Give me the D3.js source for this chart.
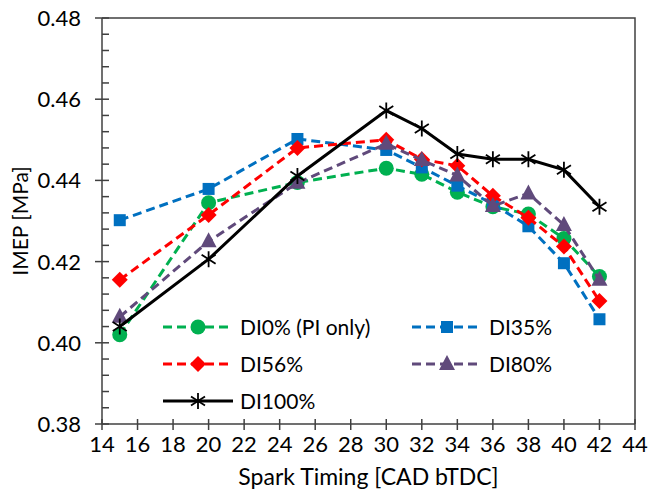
<!DOCTYPE html>
<html>
<head>
<meta charset="utf-8">
<script src="https://cdn.jsdelivr.net/npm/d3@7"></script>
<style>
  html, body { margin: 0; padding: 0; background: #fff; }
  svg text { font-family: Lato, "Open Sans", sans-serif; fill: #000; }
</style>
</head>
<body>
<script>
const WIDTH = 651;
const HEIGHT = 497;
const margin = { top: 18, right: 16, bottom: 73, left: 102 };

// spark timing [CAD bTDC]
const timing = [15, 20, 25, 30, 32, 34, 36, 38, 40, 42];

// IMEP [MPa] per DI ratio
const di0   = [0.4020, 0.4345, 0.4395, 0.4430, 0.4415, 0.4371, 0.4335, 0.4317, 0.4257, 0.4163];
const di35  = [0.4302, 0.4379, 0.4502, 0.4475, 0.4432, 0.4387, 0.4342, 0.4287, 0.4196, 0.4058];
const di56  = [0.4155, 0.4315, 0.4480, 0.4500, 0.4452, 0.4436, 0.4362, 0.4308, 0.4237, 0.4103];
const di80  = [0.4064, 0.4250, 0.4394, 0.4490, 0.4450, 0.4412, 0.4337, 0.4368, 0.4290, 0.4155];
const di100 = [0.4040, 0.4206, 0.4411, 0.4572, 0.4528, 0.4465, 0.4452, 0.4452, 0.4426, 0.4335];

const xTicks = d3.range(14, 45, 2);
const yTicks = [0.38, 0.40, 0.42, 0.44, 0.46, 0.48];

const series = [
  { name: "DI0% (PI only)", values: di0,  color: "#00B050", dash: "9,5", marker: "circle" },
  { name: "DI35%",          values: di35, color: "#0070C0", dash: "9,5", marker: "square" },
  { name: "DI56%",          values: di56, color: "#FF0000", dash: "9,5", marker: "diamond" },
  { name: "DI80%",          values: di80, color: "#604A7B", dash: "9,5", marker: "triangle" },
  { name: "DI100%",         values: di100, color: "#000000", dash: null, marker: "asterisk" }
];

const svg = d3.select("body").append("svg")
  .attr("width", WIDTH)
  .attr("height", HEIGHT);

const x = d3.scaleLinear().domain([14, 44]).range([margin.left, WIDTH - margin.right]);
const y = d3.scaleLinear().domain([0.38, 0.48]).range([HEIGHT - margin.bottom, margin.top]);

// plot frame (top + right)
svg.append("path")
  .attr("d", `M${x(14)},${y(0.48)}H${x(44)}V${y(0.38)}`)
  .attr("fill", "none")
  .attr("stroke", "#404040")
  .attr("stroke-width", 1.5);

// y axis: minor ticks inside, major ticks crossing
const yAxis = svg.append("g");
yAxis.selectAll(".minor")
  .data(d3.range(0, 26).map(i => 0.38 + i * 0.004).filter((d, i) => i % 5 != 0))
  .join("line")
  .attr("x1", x(14)).attr("x2", x(14) + 7)
  .attr("y1", d => y(d)).attr("y2", d => y(d))
  .attr("stroke", "#404040").attr("stroke-width", 1.5);
yAxis.selectAll(".major")
  .data(yTicks)
  .join("line")
  .attr("x1", x(14) - 7).attr("x2", x(14) + 7)
  .attr("y1", d => y(d)).attr("y2", d => y(d))
  .attr("stroke", "#404040").attr("stroke-width", 1.5);
yAxis.selectAll("text")
  .data(yTicks)
  .join("text")
  .attr("x", x(14) - 21)
  .attr("y", d => y(d) + 8)
  .attr("text-anchor", "end")
  .attr("font-size", 22)
  .text(d => d3.format(".2f")(d));
yAxis.append("line")
  .attr("x1", x(14)).attr("x2", x(14))
  .attr("y1", y(0.48)).attr("y2", y(0.38))
  .attr("stroke", "#404040").attr("stroke-width", 1.5);

// x axis
const xAxis = svg.append("g");
xAxis.selectAll("line")
  .data(xTicks)
  .join("line")
  .attr("x1", d => x(d)).attr("x2", d => x(d))
  .attr("y1", y(0.38) - 5).attr("y2", y(0.38) + 6)
  .attr("stroke", "#404040").attr("stroke-width", 1.5);
xAxis.selectAll("text")
  .data(xTicks)
  .join("text")
  .attr("x", d => x(d))
  .attr("y", y(0.38) + 28)
  .attr("text-anchor", "middle")
  .attr("font-size", 22)
  .text(d => d);
xAxis.append("line")
  .attr("x1", x(14)).attr("x2", x(44))
  .attr("y1", y(0.38)).attr("y2", y(0.38))
  .attr("stroke", "#404040").attr("stroke-width", 1.5);

// axis titles
svg.append("text")
  .attr("x", (x(14) + x(44)) / 2)
  .attr("y", HEIGHT - 12)
  .attr("text-anchor", "middle")
  .attr("font-size", 23)
  .text("Spark Timing [CAD bTDC]");
svg.append("text")
  .attr("transform", `translate(28,${(y(0.38) + y(0.48)) / 2}) rotate(-90)`)
  .attr("text-anchor", "middle")
  .attr("font-size", 21)
  .text("IMEP [MPa]");

// marker drawing
const drawMarker = (g, type, color) => {
  if (type == "circle") {
    g.append("circle").attr("r", 7.5).attr("fill", color);
  } else if (type == "square") {
    g.append("rect").attr("x", -6).attr("y", -6).attr("width", 12).attr("height", 12).attr("fill", color);
  } else if (type == "diamond") {
    g.append("path").attr("d", "M0,-8L8,0L0,8L-8,0Z").attr("fill", color);
  } else if (type == "triangle") {
    g.append("path").attr("d", "M0,-9L8,6L-8,6Z").attr("fill", color);
  } else {
    g.append("path")
      .attr("d", "M0,-8V8M-7,-4.5L7,4.5M-7,4.5L7,-4.5")
      .attr("stroke", color).attr("stroke-width", 1.8).attr("fill", "none");
  }
};

const line = d3.line()
  .x(d => x(d[0]))
  .y(d => y(d[1]));

const plot = svg.append("g");
series.forEach(s => {
  const pts = timing.map((t, i) => [t, s.values[i]]);
  const g = plot.append("g");
  g.append("path")
    .attr("d", line(pts))
    .attr("fill", "none")
    .attr("stroke", s.color)
    .attr("stroke-width", 3)
    .attr("stroke-dasharray", s.dash);
  g.selectAll("g")
    .data(pts)
    .join("g")
    .attr("transform", d => `translate(${x(d[0])},${y(d[1])})`)
    .each(function() { drawMarker(d3.select(this), s.marker, s.color); });
});

// legend
const legendPos = [[163, 327], [412, 327], [163, 364], [412, 364], [163, 401]];
const legend = svg.append("g");
series.forEach((s, i) => {
  const [lx, ly] = legendPos[i];
  const g = legend.append("g").attr("transform", `translate(${lx},${ly})`);
  g.append("line")
    .attr("x1", 0).attr("x2", 70)
    .attr("stroke", s.color).attr("stroke-width", 3)
    .attr("stroke-dasharray", s.dash);
  drawMarker(g.append("g").attr("transform", "translate(35,0)"), s.marker, s.color);
  g.append("text")
    .attr("x", 77)
    .attr("y", 7.5)
    .attr("font-size", 21)
    .text(s.name);
});
</script>
</body>
</html>
